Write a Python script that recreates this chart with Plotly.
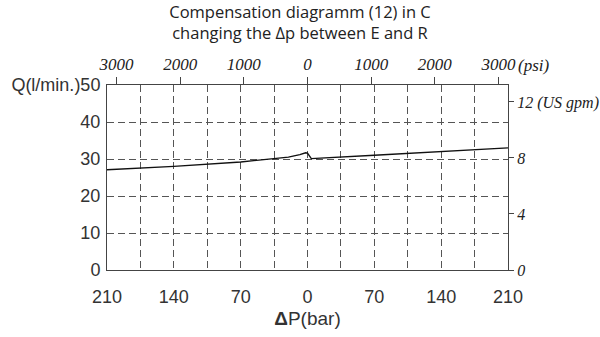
import plotly.graph_objects as go

# Pressure difference (bar) and compensated flow Q (l/min)
dp_bar = [-210, -140, -70, -35, -20, -8, -2, 0, 4, 70, 140, 210]
q_lpm = [27.1, 28.0, 29.2, 30.0, 30.5, 31.2, 31.7, 31.6, 30.1, 31.0, 32.0, 33.0]

bar_ticks = [-210, -140, -70, 0, 70, 140, 210]
bar_labels = ["210", "140", "70", "0", "70", "140", "210"]
psi_ticks = [-3000, -2000, -1000, 0, 1000, 2000, 3000]
psi_labels = ["3000", "2000", "1000", "0", "1000", "2000", "3000"]
q_ticks = [0, 10, 20, 30, 40, 50]
q_labels = ["0", "10", "20", "30", "40", "Q(l/min.)50"]
gpm_ticks = [0, 4, 8, 12]
gpm_labels = ["0", "4", "8", "12 (US gpm)"]

AX_FONT = dict(family="Liberation Sans, Arial, sans-serif", size=18, color="#333")
SERIF_IT = dict(family="Liberation Serif, serif", size=17, color="#222", style="italic")
SERIF_IT_R = dict(SERIF_IT, size=16)
GRID = "#555"
DASH = "7px,4px"

fig = go.Figure()
fig.add_trace(go.Scatter(x=dp_bar, y=q_lpm, mode="lines",
                         line=dict(color="#111", width=1.4), showlegend=False))
# carrier trace for the psi / gpm scales
fig.add_trace(go.Scatter(x=[None], y=[None], xaxis="x2", yaxis="y2",
                         showlegend=False, hoverinfo="skip"))

fig.update_layout(
    width=600, height=337,
    margin=dict(l=107, r=92, t=85, b=67, autoexpand=False),
    paper_bgcolor="white", plot_bgcolor="white",
    title=dict(text="Compensation diagramm (12) in C<br>changing the \u0394p between E and R",
               x=0.5, xanchor="center", yref="container", y=1 - 18 / 337, yanchor="middle",
               font=dict(family="Open Sans, sans-serif", size=16.5, color="#222")),
    xaxis=dict(range=[-210, 210], tickmode="array", tickvals=bar_ticks, ticktext=bar_labels,
               showgrid=True, gridcolor=GRID, griddash=DASH, gridwidth=1,
               minor=dict(tickmode="linear", tick0=0, dtick=35, showgrid=True,
                          gridcolor=GRID, griddash=DASH, gridwidth=1),
               showline=True, linecolor="#444", linewidth=1, automargin=False,
               ticks="", zeroline=False, tickfont=AX_FONT, ticklabelstandoff=10,
               title=dict(text="<b>\u0394</b>P(bar)", font=dict(AX_FONT, size=19), standoff=6)),
    yaxis=dict(range=[0, 50], tickmode="array", tickvals=q_ticks, ticktext=q_labels,
               showgrid=True, gridcolor=GRID, griddash=DASH, gridwidth=1,
               showline=True, linecolor="#444", linewidth=1, automargin=False,
               ticks="", zeroline=False, tickfont=AX_FONT, ticklabelstandoff=2),
    xaxis2=dict(overlaying="x", side="top", range=[-3150, 3150], tickmode="array",
                tickvals=psi_ticks, ticktext=psi_labels, showgrid=False, zeroline=False,
                showline=True, linecolor="#444", linewidth=1, automargin=False,
                ticks="outside", ticklen=7, tickcolor="#444", tickfont=SERIF_IT),
    yaxis2=dict(overlaying="y", side="right", range=[0, 50 / 3.785], tickmode="array",
                tickvals=gpm_ticks, ticktext=gpm_labels, showgrid=False, zeroline=False,
                showline=True, linecolor="#444", linewidth=1, automargin=False,
                ticks="outside", ticklen=5, tickcolor="#444", tickfont=SERIF_IT_R,
                ticklabelstandoff=0),
)

fig.add_annotation(text="(psi)", xref="x2", yref="paper", x=3000, y=1,
                   xanchor="left", yanchor="bottom", xshift=18, yshift=8,
                   showarrow=False, font=SERIF_IT)

fig.write_html("out.html")
